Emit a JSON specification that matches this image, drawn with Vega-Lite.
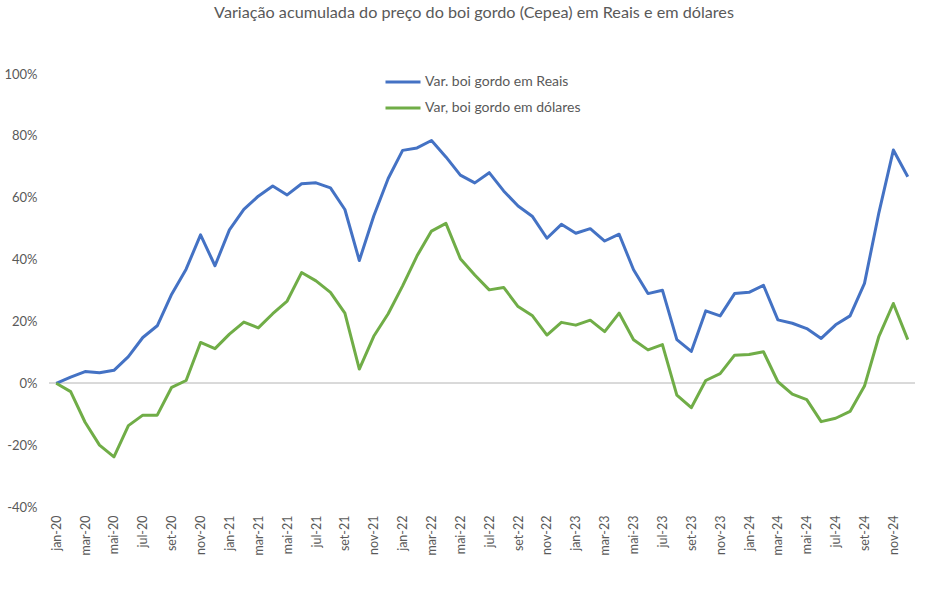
{
  "$schema": "https://vega.github.io/schema/vega-lite/v6.json",
  "width": 866,
  "height": 433,
  "autosize": "none",
  "padding": {"left": 49, "top": 74, "right": 33, "bottom": 83},
  "background": "white",
  "config": {"view": {"stroke": null}, "font": "Lato"},
  "title": {"text": "Variação acumulada do preço do boi gordo (Cepea) em Reais e em dólares", "anchor": "middle", "fontSize": 16.2, "fontWeight": "normal", "color": "#595959", "offset": 42, "dx": -8},
  "data": {"values": [
    {"mes": "jan-20", "reais": 0, "dolares": 0},
    {"mes": "fev-20", "reais": 2.0, "dolares": -2.7},
    {"mes": "mar-20", "reais": 3.8, "dolares": -12.6},
    {"mes": "abr-20", "reais": 3.4, "dolares": -20.0},
    {"mes": "mai-20", "reais": 4.2, "dolares": -23.8},
    {"mes": "jun-20", "reais": 8.6, "dolares": -13.7},
    {"mes": "jul-20", "reais": 14.8, "dolares": -10.3},
    {"mes": "ago-20", "reais": 18.6, "dolares": -10.3},
    {"mes": "set-20", "reais": 28.8, "dolares": -1.3},
    {"mes": "out-20", "reais": 36.9, "dolares": 0.9},
    {"mes": "nov-20", "reais": 48.0, "dolares": 13.2},
    {"mes": "dez-20", "reais": 38.0, "dolares": 11.2},
    {"mes": "jan-21", "reais": 49.6, "dolares": 15.9},
    {"mes": "fev-21", "reais": 56.2, "dolares": 19.8},
    {"mes": "mar-21", "reais": 60.5, "dolares": 17.9},
    {"mes": "abr-21", "reais": 63.8, "dolares": 22.5},
    {"mes": "mai-21", "reais": 60.9, "dolares": 26.6},
    {"mes": "jun-21", "reais": 64.5, "dolares": 35.8},
    {"mes": "jul-21", "reais": 64.8, "dolares": 33.1},
    {"mes": "ago-21", "reais": 63.2, "dolares": 29.4},
    {"mes": "set-21", "reais": 56.2, "dolares": 22.7},
    {"mes": "out-21", "reais": 39.7, "dolares": 4.6},
    {"mes": "nov-21", "reais": 54.1, "dolares": 15.2},
    {"mes": "dez-21", "reais": 66.2, "dolares": 22.5},
    {"mes": "jan-22", "reais": 75.3, "dolares": 31.5},
    {"mes": "fev-22", "reais": 76.1, "dolares": 41.2},
    {"mes": "mar-22", "reais": 78.5, "dolares": 49.2},
    {"mes": "abr-22", "reais": 73.2, "dolares": 51.7},
    {"mes": "mai-22", "reais": 67.3, "dolares": 40.3},
    {"mes": "jun-22", "reais": 64.8, "dolares": 35.0},
    {"mes": "jul-22", "reais": 68.1, "dolares": 30.2},
    {"mes": "ago-22", "reais": 62.2, "dolares": 31.0},
    {"mes": "set-22", "reais": 57.3, "dolares": 24.8},
    {"mes": "out-22", "reais": 53.9, "dolares": 21.8},
    {"mes": "nov-22", "reais": 46.9, "dolares": 15.6},
    {"mes": "dez-22", "reais": 51.4, "dolares": 19.7},
    {"mes": "jan-23", "reais": 48.5, "dolares": 18.8},
    {"mes": "fev-23", "reais": 50.0, "dolares": 20.4},
    {"mes": "mar-23", "reais": 46.0, "dolares": 16.7},
    {"mes": "abr-23", "reais": 48.2, "dolares": 22.7},
    {"mes": "mai-23", "reais": 36.7, "dolares": 14.1},
    {"mes": "jun-23", "reais": 29.0, "dolares": 10.8},
    {"mes": "jul-23", "reais": 30.1, "dolares": 12.5},
    {"mes": "ago-23", "reais": 14.1, "dolares": -3.8},
    {"mes": "set-23", "reais": 10.3, "dolares": -7.9},
    {"mes": "out-23", "reais": 23.4, "dolares": 0.9},
    {"mes": "nov-23", "reais": 21.8, "dolares": 3.1},
    {"mes": "dez-23", "reais": 29.0, "dolares": 9.1},
    {"mes": "jan-24", "reais": 29.4, "dolares": 9.3},
    {"mes": "fev-24", "reais": 31.7, "dolares": 10.2},
    {"mes": "mar-24", "reais": 20.5, "dolares": 0.5},
    {"mes": "abr-24", "reais": 19.4, "dolares": -3.5},
    {"mes": "mai-24", "reais": 17.7, "dolares": -5.3},
    {"mes": "jun-24", "reais": 14.5, "dolares": -12.4},
    {"mes": "jul-24", "reais": 18.9, "dolares": -11.3},
    {"mes": "ago-24", "reais": 21.8, "dolares": -9.1},
    {"mes": "set-24", "reais": 32.3, "dolares": -0.9},
    {"mes": "out-24", "reais": 55.2, "dolares": 15.2},
    {"mes": "nov-24", "reais": 75.4, "dolares": 25.8},
    {"mes": "dez-24", "reais": 66.8, "dolares": 14.1}
  ]},
  "transform": [{"fold": ["reais", "dolares"], "as": ["serie_key", "valor"]},
    {"lookup": "serie_key", "from": {"data": {"values": [{"k": "reais", "serie": "Var. boi gordo em Reais"}, {"k": "dolares", "serie": "Var, boi gordo em dólares"}]}, "key": "k", "fields": ["serie"]}}],
  "layer": [
    {
      "mark": {"type": "rule", "color": "#d9d9d9", "strokeWidth": 1},
      "encoding": {"y": {"datum": 0, "type": "quantitative", "scale": {"domain": [-40, 100]}}}
    },
    {
      "mark": {"type": "line", "strokeWidth": 3, "strokeJoin": "round"},
      "encoding": {
        "x": {"field": "mes", "type": "ordinal", "sort": null, "scale": {"type": "point", "padding": 0.5},
          "axis": {"title": null, "domain": false, "ticks": false, "labelAngle": -90, "labelFontSize": 12.5, "labelColor": "#595959", "labelPadding": 8,
            "values": ["jan-20","mar-20","mai-20","jul-20","set-20","nov-20","jan-21","mar-21","mai-21","jul-21","set-21","nov-21","jan-22","mar-22","mai-22","jul-22","set-22","nov-22","jan-23","mar-23","mai-23","jul-23","set-23","nov-23","jan-24","mar-24","mai-24","jul-24","set-24","nov-24"]}},
        "y": {"field": "valor", "type": "quantitative", "scale": {"domain": [-40, 100], "nice": false},
          "axis": {"title": null, "domain": false, "ticks": false, "grid": false, "values": [-40, -20, 0, 20, 40, 60, 80, 100], "labelExpr": "datum.value + '%'", "labelFontSize": 13, "labelColor": "#595959", "labelPadding": 12}},
        "color": {"field": "serie", "type": "nominal", "sort": null,
          "scale": {"domain": ["Var. boi gordo em Reais", "Var, boi gordo em dólares"], "range": ["#4472C4", "#70AD47"]},
          "legend": {"title": null, "orient": "none", "legendX": 335, "legendY": -11, "symbolType": "stroke", "symbolSize": 1225, "symbolStrokeWidth": 3, "labelFontSize": 14, "labelColor": "#595959", "rowPadding": -10, "labelOffset": 3}}
      }
    }
  ]
}
